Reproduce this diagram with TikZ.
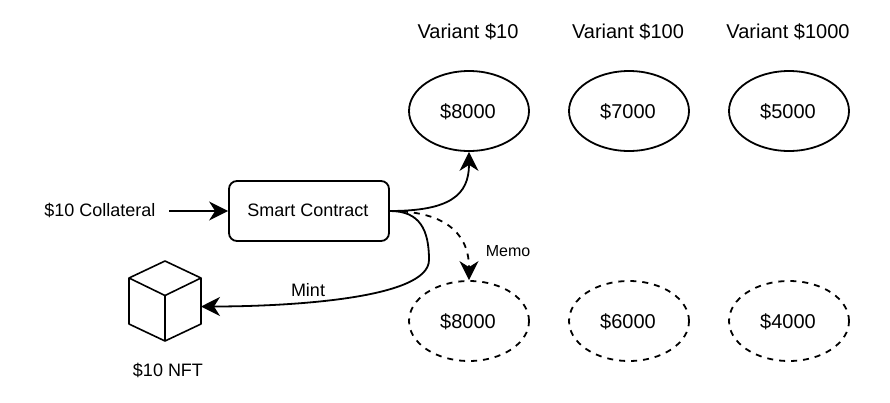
\documentclass[tikz,border=0pt]{standalone}
\usepackage{fontspec}
\setmainfont{Liberation Sans}
\usetikzlibrary{arrows.meta,shapes.geometric}
\newcommand{\eltxt}[1]{\hspace*{-2pt}\raisebox{-7.2pt}[0pt][0pt]{#1}}
\begin{document}
\begin{tikzpicture}[x=1pt,y=-1pt,
 line width=1.8pt,
 el/.style={draw,ellipse,minimum width=120pt,minimum height=80pt,inner sep=0pt,font=\fontsize{20}{24}\selectfont},
 eld/.style={el,dash pattern=on 6pt off 6pt},
 lab/.style={inner sep=0pt,font=\fontsize{20}{24}\selectfont},
 mid/.style={inner sep=0pt,font=\fontsize{18}{22}\selectfont},
 sm/.style={inner sep=0pt,font=\fontsize{16}{19}\selectfont},
 arr/.style={-{Stealth[length=19pt,width=19pt,inset=6pt]}},
 cube/.style={line width=1.6pt,line join=round}]
\useasboundingbox (0,0) rectangle (890,402);
\node[lab] (v1) at (468,31.5) {Variant \$10};
\node[lab] (v2) at (628,31.5) {Variant \$100};
\node[lab] (v3) at (788,31.5) {Variant \$1000};
\node[el] (a1) at (469,111) {\eltxt{\$8000}};
\node[el] (a2) at (629,111) {\eltxt{\$7000}};
\node[el] (a3) at (789,111) {\eltxt{\$5000}};
\node[eld] (b1) at (469,321) {\eltxt{\$8000}};
\node[eld] (b2) at (629,321) {\eltxt{\$6000}};
\node[eld] (b3) at (789,321) {\eltxt{\$4000}};
\node[draw,rounded corners=8pt,minimum width=160pt,minimum height=60pt,inner sep=0pt,font=\fontsize{18}{22}\selectfont] (sc) at (309,211) {\hspace*{-2pt}\raisebox{1pt}{Smart Contract}};
\node[mid] (col) at (100,210.5) {\$10 Collateral};
\coordinate (cs) at (169,211);
\coordinate (cu) at (201,306.5);
\draw[arr] (cs) -- (sc.west);
\draw[arr] (sc.east) .. controls (450,211) and (469,195) .. (a1.south);
\draw[arr,dash pattern=on 6pt off 6pt] (sc.east) .. controls (440,211) and (469,230) .. (b1.north);
\draw[arr] (sc.east) .. controls (420,211) and (429,230) .. (429,260) .. controls (429,300) and (280,306.5) .. (cu);
\node[mid] (mint) at (308,290.5) {Mint};
\node[sm] (memo) at (508,251) {Memo};
\draw[cube] (165,261) -- (201,278) -- (201,324) -- (165,341) -- (129,324) -- (129,278) -- cycle;
\draw[cube] (129,278) -- (165,295.5) -- (201,278) (165,295.5) -- (165,341);
\node[mid] (nft) at (168,370.5) {\$10 NFT};
\end{tikzpicture}
\end{document}
